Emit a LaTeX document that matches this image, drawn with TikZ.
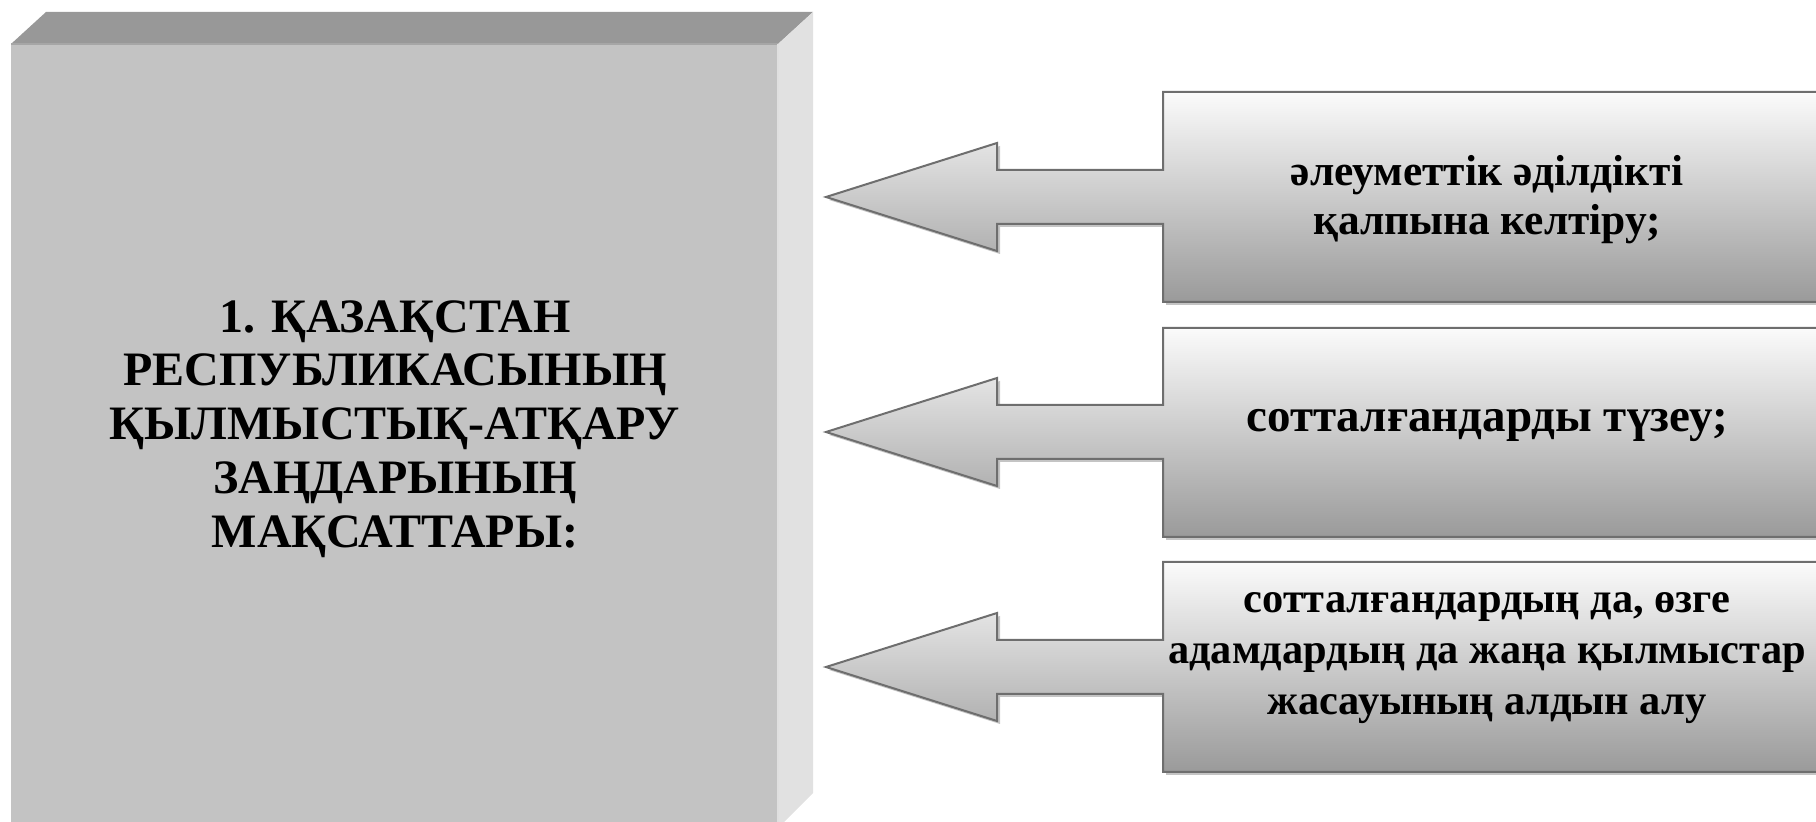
\documentclass[tikz,border=0pt]{standalone}
\usepackage{fontspec}
\setmainfont{Liberation Serif}
\usetikzlibrary{shadows}

\definecolor{frontface}{HTML}{C3C3C3}
\definecolor{topface}{HTML}{989898}
\definecolor{sideface}{HTML}{E1E1E1}
\definecolor{boxline}{HTML}{6E6E6E}
\definecolor{boxlight}{HTML}{FBFBFB}
\definecolor{boxdark}{HTML}{9A9A9A}
\definecolor{boxshadow}{HTML}{C4C4C4}

\tikzstyle{title}=[font=\bfseries\fontsize{24}{26.9}\selectfont, align=center]
\tikzstyle{aim}=[align=center]
\tikzstyle{callout}=[draw=boxline, line width=1pt, top color=boxlight, bottom color=boxdark,
    drop shadow={shadow xshift=1.5pt, shadow yshift=-1.5pt, fill=boxshadow, opacity=1}]
\newcommand{\pxunit}{0.5pt}

\begin{document}
\begin{tikzpicture}[x=\pxunit, y=-\pxunit]
    \clip (0,0) rectangle (1816,822);
    % First we draw the block on the left
    \fill[frontface] (11,44) rectangle (778,840);
    \fill[topface] (11,44) -- (46,12) -- (813,12) -- (778,44) -- cycle;
    \fill[sideface] (778,44) -- (813,12) -- (813,793) -- (778,828) -- cycle;
    \draw[line width=1pt, gray!70] (11,44) -- (778,44);
    \draw[line width=1pt, gray!25] (778,44) -- (778,828);
    \node[title] (goals) at (395,429) {1. ҚАЗАҚСТАН\\ РЕСПУБЛИКАСЫНЫҢ\\ ҚЫЛМЫСТЫҚ-АТҚАРУ\\ ЗАҢДАРЫНЫҢ\\ МАҚСАТТАРЫ:};
    % Then the three arrows pointing at it, each with its text
    \foreach \ytop/\ymid/\ybot/\ytext/\fs/\bs/\name/\txt in {
        92/197/302/200/21.7/24.6/justice/{әлеуметтік әділдікті\\ қалпына келтіру;},
        328/432/537/426/23.5/26/correction/{сотталғандарды түзеу;},
        562/667/772/658/21.2/25.4/prevention/{сотталғандардың да, өзге\\ адамдардың да жаңа қылмыстар\\ жасауының алдын алу}}
    {
        \path[callout] (1830,\ytop) -- (1163,\ytop) -- (1163,\ymid-27) -- (997,\ymid-27)
            -- (997,\ymid-54) -- (826,\ymid) -- (997,\ymid+54) -- (997,\ymid+27)
            -- (1163,\ymid+27) -- (1163,\ybot) -- (1830,\ybot) -- cycle;
        \node[aim, font=\bfseries\fontsize{\fs}{\bs}\selectfont] (\name) at (1487,\ytext) {\txt};
    }
\end{tikzpicture}
\end{document}
